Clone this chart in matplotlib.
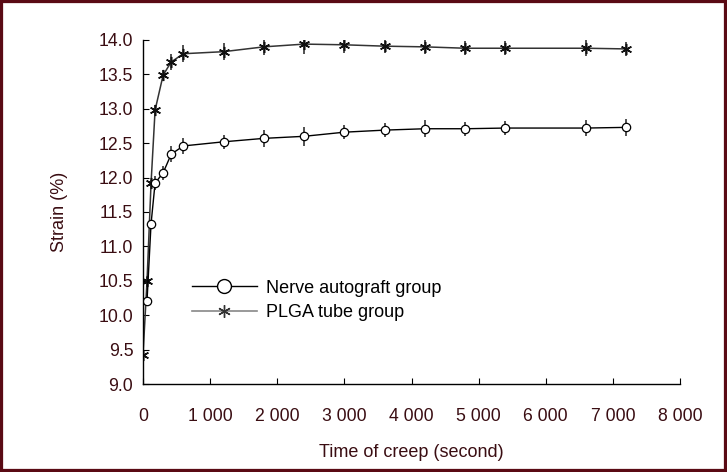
import matplotlib.pyplot as plt
from matplotlib.patches import Rectangle
from matplotlib.lines import Line2D

# Creep strain data
time_nerve = [60, 120, 180, 300, 420, 600, 1200, 1800, 2400, 3000, 3600, 4200, 4800, 5400, 6600, 7200]
strain_nerve = [10.21, 11.33, 11.92, 12.07, 12.34, 12.46, 12.52, 12.57, 12.60, 12.66, 12.69, 12.71, 12.71, 12.72, 12.72, 12.73]
err_nerve = [0.05, 0.05, 0.10, 0.10, 0.12, 0.12, 0.10, 0.12, 0.14, 0.10, 0.10, 0.12, 0.10, 0.10, 0.12, 0.12]

time_plga = [0, 60, 120, 180, 300, 420, 600, 1200, 1800, 2400, 3000, 3600, 4200, 4800, 5400, 6600, 7200]
strain_plga = [9.42, 10.50, 11.92, 12.98, 13.49, 13.68, 13.80, 13.83, 13.90, 13.94, 13.93, 13.91, 13.90, 13.88, 13.88, 13.88, 13.87]
err_plga = [0.0, 0.05, 0.05, 0.08, 0.08, 0.12, 0.12, 0.12, 0.12, 0.14, 0.12, 0.10, 0.10, 0.10, 0.10, 0.12, 0.10]

x_ticks = [0, 1000, 2000, 3000, 4000, 5000, 6000, 7000, 8000]
x_tick_labels = ['0', '1 000', '2 000', '3 000', '4 000', '5 000', '6 000', '7 000', '8 000']
y_ticks = [9.0, 9.5, 10.0, 10.5, 11.0, 11.5, 12.0, 12.5, 13.0, 13.5, 14.0]

plt.rcParams['font.family'] = ['Liberation Sans', 'DejaVu Sans']
text_color = '#3a0d12'
asterisk = (6, 2, 0)

fig = plt.figure(figsize=(7.27, 4.72), dpi=100)
ax = fig.add_axes([0.1967, 0.1864, 0.7387, 0.7289])

# PLGA tube group
ax.errorbar(time_plga, strain_plga, yerr=err_plga, fmt='none', ecolor='#222222', elinewidth=1.1, capsize=0)
ax.plot(time_plga, strain_plga, color='#333333', linewidth=1.1, marker=asterisk, markersize=8,
        markeredgecolor='#111111', markeredgewidth=1.1)

# Nerve autograft group
ax.errorbar(time_nerve, strain_nerve, yerr=err_nerve, fmt='none', ecolor='#222222', elinewidth=1.1, capsize=0)
ax.plot(time_nerve, strain_nerve, color='black', linewidth=1.0, marker='o', markersize=6,
        markerfacecolor='white', markeredgecolor='black', markeredgewidth=0.9)

ax.set_xlim(0, 8000)
ax.set_ylim(9.0, 14.0)
ax.set_xticks(x_ticks)
ax.set_xticklabels(x_tick_labels)
ax.set_yticks(y_ticks)
ax.set_yticklabels([f'{v:.1f}' for v in y_ticks])

ax.spines['top'].set_visible(False)
ax.spines['right'].set_visible(False)
ax.spines['left'].set_linewidth(1.0)
ax.spines['bottom'].set_linewidth(1.0)
ax.tick_params(axis='x', direction='in', length=4, pad=17, labelsize=12.7, labelcolor=text_color)
ax.tick_params(axis='y', direction='in', length=4, pad=7, labelsize=12.7, labelcolor=text_color)

ax.set_xlabel('Time of creep (second)', fontsize=13, color=text_color, labelpad=14)
ax.set_ylabel('Strain (%)', fontsize=13, color=text_color, labelpad=22)

# Legend
handles = [
    Line2D([0], [0], color='black', linewidth=1.0, marker='o', markersize=10,
           markerfacecolor='white', markeredgecolor='black'),
    Line2D([0], [0], color='#888888', linewidth=1.2, marker=asterisk, markersize=9,
           markeredgecolor='#333333', markeredgewidth=1.0),
]
ax.legend(handles, ['Nerve autograft group', 'PLGA tube group'], loc='center left',
          bbox_to_anchor=(0.091, 0.2425), frameon=False, fontsize=13, handlelength=3.6,
          handletextpad=0.5, labelspacing=0.42, borderpad=0, borderaxespad=0)

# Dark red frame around the figure
fig.patches.append(Rectangle((0, 0), 1, 1, transform=fig.transFigure, fill=False,
                             edgecolor='#5a0a14', linewidth=4.5))

fig.savefig('out.png', dpi=100)
